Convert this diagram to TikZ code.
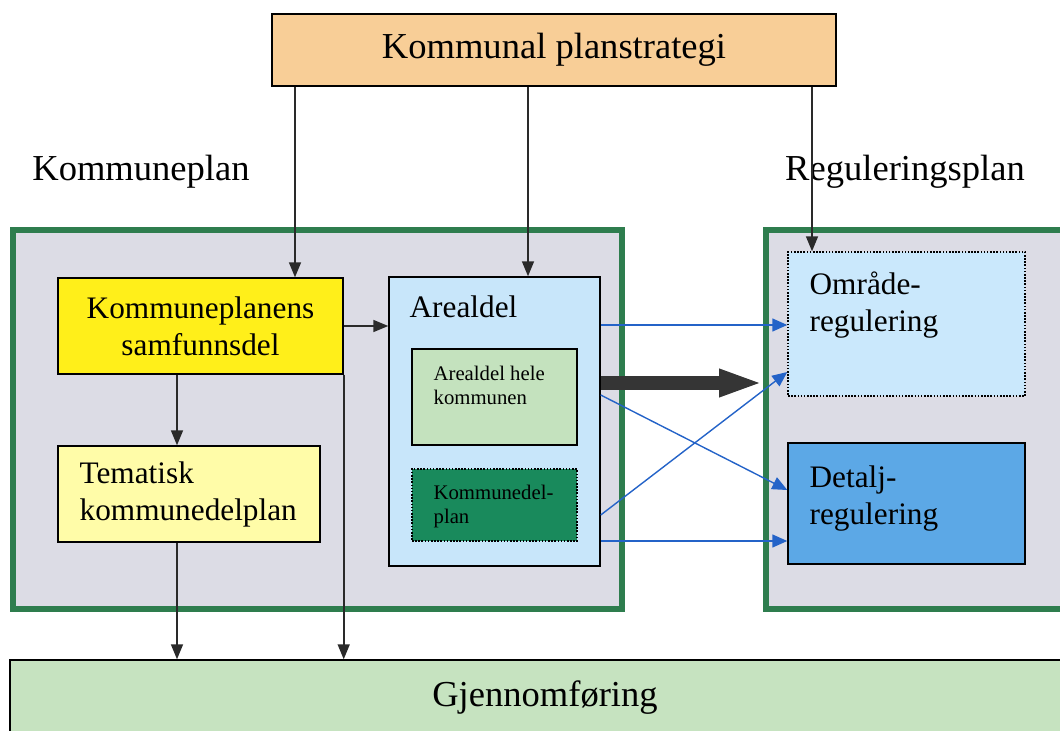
\documentclass[tikz,border=0pt]{standalone}
\usepackage{fontspec}
\setmainfont{Liberation Serif}
\usepackage{tikz}
\usetikzlibrary{arrows.meta, positioning, calc}

\definecolor{stratorange}{HTML}{F8CE97}
\definecolor{planbg}{HTML}{DCDCE5}
\definecolor{planedge}{HTML}{2E7D4E}
\definecolor{samfyellow}{HTML}{FFEF1A}
\definecolor{temayellow}{HTML}{FFFCA8}
\definecolor{arealblue}{HTML}{C8E6FA}
\definecolor{helegreen}{HTML}{C4E2BE}
\definecolor{kdelteal}{HTML}{198A5C}
\definecolor{omrblue}{HTML}{CAE8FC}
\definecolor{detblue}{HTML}{5CA8E6}
\definecolor{gjengreen}{HTML}{C6E3C0}
\definecolor{arrowblue}{HTML}{2463C8}
\definecolor{arrowgray}{HTML}{2A2A2A}

\tikzset{
  box/.style={draw=black, line width=0.8pt, inner sep=0pt},
  dotbox/.style={box, dash pattern=on 0.9pt off 0.9pt},
  planbox/.style={draw=planedge, line width=3.2pt, fill=planbg},
  txt/.style={inner sep=0pt, align=left},
  bigtext/.style={font=\fontsize{20.8}{25}\selectfont},
  midtext/.style={font=\fontsize{17.8}{21}\selectfont},
  smalltext/.style={font=\fontsize{11.8}{13.7}\selectfont},
  arr/.style={draw=arrowgray, line width=0.9pt, -{Triangle[length=0.3cm,width=0.24cm]}},
  barr/.style={draw=arrowblue, line width=0.8pt, -{Triangle[length=0.3cm,width=0.26cm]}},
  fatarr/.style={draw=arrowgray!95, line width=0.28cm, -{Triangle[length=0.88cm,width=0.5cm]}}
}

\begin{document}
\begin{tikzpicture}
        \useasboundingbox (0,0) rectangle (21.2,-14.62);

        \node[box, fill=stratorange, bigtext, minimum width=11.28cm, minimum height=1.44cm] (strategi) at (11.08,-1.0) {Kommunal planstrategi};

        \node[bigtext] (kplanlabel) at (2.82,-3.44) {Kommuneplan};
        \node[bigtext] (regplanlabel) at (18.1,-3.44) {Reguleringsplan};

        \node[planbox, minimum width=12.18cm, minimum height=7.58cm] (kplan) at (6.35,-8.39) {};
        \node[planbox, minimum width=6.28cm, minimum height=7.58cm] (regplan) at (18.46,-8.39) {};

        \node[box, fill=samfyellow, midtext, align=center, minimum width=5.7cm, minimum height=1.92cm] (samfunn) at (4.01,-6.52) {Kommuneplanens\\samfunnsdel};
        \node[box, fill=temayellow, minimum width=5.24cm, minimum height=1.92cm] (tematisk) at (3.78,-9.88) {};
        \node[txt, midtext, below right=0.32cm and 0.44cm of tematisk.north west] (tematisktxt) {Tematisk\\kommunedelplan};

        \node[box, fill=arealblue, minimum width=4.22cm, minimum height=5.78cm] (arealdel) at (9.89,-8.43) {};
        \node[txt, midtext, below right=0.38cm and 0.42cm of arealdel.north west] (arealdeltxt) {Arealdel};
        \node[box, fill=helegreen, minimum width=3.3cm, minimum height=1.92cm] (hele) at (9.89,-7.94) {};
        \node[txt, smalltext, below right=0.34cm and 0.44cm of hele.north west] (heletxt) {Arealdel hele\\kommunen};
        \node[dotbox, fill=kdelteal, minimum width=3.3cm, minimum height=1.44cm] (kdelplan) at (9.89,-10.1) {};
        \node[txt, smalltext, below right=0.32cm and 0.44cm of kdelplan.north west] (kdelplantxt) {Kommunedel-\\plan};

        \node[dotbox, fill=omrblue, minimum width=4.74cm, minimum height=2.88cm] (omraade) at (18.13,-6.48) {};
        \node[txt, midtext, below right=0.40cm and 0.44cm of omraade.north west] (omraadetxt) {Område-\\regulering};
        \node[box, fill=detblue, minimum width=4.74cm, minimum height=2.42cm] (detalj) at (18.13,-10.07) {};
        \node[txt, midtext, below right=0.46cm and 0.44cm of detalj.north west] (detaljtxt) {Detalj-\\regulering};

        \node[box, fill=gjengreen, bigtext, minimum width=21.4cm, minimum height=1.52cm] (gjennom) at (10.9,-13.96) {Gjennomføring};

        \draw[arr] (strategi.south -| 5.9,0) -- (samfunn.north -| 5.9,0);
        \draw[arr] (strategi.south -| 10.56,0) -- (arealdel.north -| 10.56,0);
        \draw[arr] (strategi.south -| 16.24,0) -- (omraade.north -| 16.24,0);

        \draw[arr] (samfunn.east) -- (arealdel.west |- samfunn.east);
        \draw[arr] (samfunn.south -| 3.54,0) -- (tematisk.north -| 3.54,0);
        \draw[arr] (tematisk.south -| 3.54,0) -- (gjennom.north -| 3.54,0);
        \draw[arr] (samfunn.south east) -- (gjennom.north -| samfunn.south east);

        \draw[barr] (arealdel.east |- 0,-6.5) -- (omraade.west |- 0,-6.5);
        \draw[barr] (arealdel.east |- 0,-7.9) -- (detalj.west |- 0,-9.8);
        \draw[barr] (arealdel.east |- 0,-10.3) -- (omraade.west |- 0,-7.44);
        \draw[barr] (arealdel.east |- 0,-10.82) -- (detalj.west |- 0,-10.82);

        \draw[fatarr] (arealdel.east |- 0,-7.66) -- (regplan.west |- 0,-7.66);
\end{tikzpicture}
\end{document}
